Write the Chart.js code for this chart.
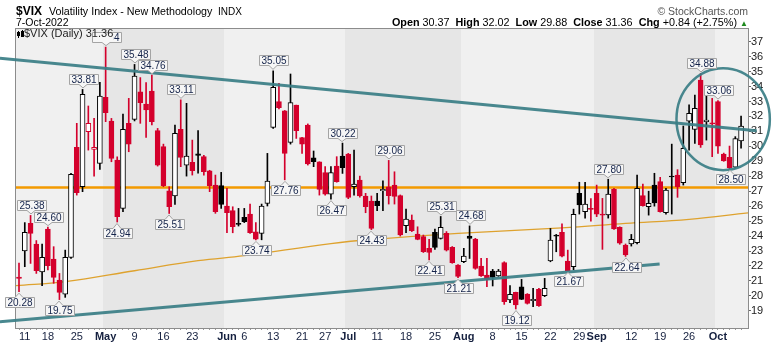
<!DOCTYPE html>
<html>
<head>
<meta charset="utf-8">
<title>$VIX</title>
<script src="https://cdn.jsdelivr.net/npm/chart.js@4.4.1/dist/chart.umd.min.js"></script>
<style>
  html,body{margin:0;padding:0;background:#fff}
  #box{position:relative;width:780px;height:345px;font-family:"Liberation Sans",Arial,sans-serif;color:#000}
  #box canvas{position:absolute;left:0;top:0}
  .t{position:absolute;white-space:pre;line-height:1}
</style>
</head>
<body>
<div id="box">
  <canvas id="chart" width="780" height="345"></canvas>
  <div class="t" style="left:16px;top:4.8px;font-size:12px;font-weight:bold">$VIX</div>
  <div class="t" style="left:49px;top:5.9px;font-size:10.7px">Volatility Index - New Methodology</div>
  <div class="t" style="left:218px;top:6.5px;font-size:10px">INDX</div>
  <div class="t" id="asof" style="left:16px;top:16.8px;font-size:10.5px"></div>
  <div class="t" style="right:32px;top:6.1px;font-size:10.5px;color:#555">© StockCharts.com</div>
  <div class="t" id="quote" style="right:32px;top:16.6px;font-size:10.8px"></div>
</div>
<script>
const FONT = '"Liberation Sans", Arial, sans-serif';

// trading days, Apr 8 -> Oct 7 2022 (MM-DD)
const dates = [
  '04-08','04-11','04-12','04-13','04-14','04-18','04-19','04-20','04-21','04-22',
  '04-25','04-26','04-27','04-28','04-29','05-02','05-03','05-04','05-05','05-06',
  '05-09','05-10','05-11','05-12','05-13','05-16','05-17','05-18','05-19','05-20',
  '05-23','05-24','05-25','05-26','05-27','05-31','06-01','06-02','06-03','06-06',
  '06-07','06-08','06-09','06-10','06-13','06-14','06-15','06-16','06-17','06-21',
  '06-22','06-23','06-24','06-27','06-28','06-29','06-30','07-01','07-05','07-06',
  '07-07','07-08','07-11','07-12','07-13','07-14','07-15','07-18','07-19','07-20',
  '07-21','07-22','07-25','07-26','07-27','07-28','07-29','08-01','08-02','08-03',
  '08-04','08-05','08-08','08-09','08-10','08-11','08-12','08-15','08-16','08-17',
  '08-18','08-19','08-22','08-23','08-24','08-25','08-26','08-29','08-30','08-31',
  '09-01','09-02','09-06','09-07','09-08','09-09','09-12','09-13','09-14','09-15',
  '09-16','09-19','09-20','09-21','09-22','09-23','09-26','09-27','09-28','09-29',
  '09-30','10-03','10-04','10-05','10-06','10-07'
];

const open = [
  21.25, 23.00, 24.85, 23.47, 21.60, 24.47, 22.46, 21.06, 20.12, 22.57,
  29.93, 27.30, 30.98, 29.80, 28.86, 33.28, 31.69, 29.08, 25.85, 31.54,
  31.80, 33.65, 32.83, 33.70, 31.05, 29.98, 27.03, 26.68, 31.14, 28.75,
  28.93, 29.50, 29.31, 28.37, 27.41, 27.37, 26.01, 25.70, 24.85, 25.25,
  25.47, 24.29, 24.17, 26.19, 31.27, 32.99, 32.38, 30.27, 32.76, 30.58,
  31.43, 29.24, 28.97, 28.24, 26.81, 28.68, 29.35, 29.49, 27.30, 27.75,
  26.68, 26.34, 26.34, 27.03, 27.30, 27.41, 26.70, 24.69, 25.07, 24.13,
  23.96, 23.18, 24.25, 23.85, 24.18, 23.24, 22.06, 22.28, 24.00, 23.80,
  21.99, 21.39, 21.66, 21.33, 22.22, 19.72, 20.23, 20.61, 20.12, 19.68,
  20.43, 20.01, 22.33, 24.05, 24.25, 22.33, 21.95, 26.86, 25.63, 25.85,
  26.86, 25.45, 25.41, 27.13, 24.59, 23.40, 23.47, 23.56, 26.70, 25.96,
  27.41, 27.64, 25.56, 28.00, 28.08, 27.57, 31.69, 31.14, 34.44, 31.65,
  31.56, 32.99, 29.49, 29.26, 28.60, 30.37
];
const high = [
  22.20, 24.90, 25.38, 23.70, 23.47, 24.60, 23.29, 21.50, 23.06, 28.19,
  31.54, 33.81, 32.70, 31.87, 34.28, 36.64, 31.87, 29.30, 32.16, 33.21,
  35.48, 34.60, 34.26, 34.76, 31.20, 30.15, 27.30, 31.43, 33.11, 32.88,
  30.42, 31.05, 29.40, 28.40, 28.08, 28.26, 27.20, 25.96, 25.85, 25.85,
  26.14, 24.90, 26.14, 29.53, 35.05, 34.21, 32.40, 34.84, 32.76, 30.60,
  31.50, 29.69, 28.97, 28.64, 28.64, 29.31, 30.22, 29.53, 29.75, 28.01,
  26.86, 26.68, 26.86, 27.70, 29.06, 28.30, 26.75, 25.81, 25.41, 24.62,
  24.07, 23.78, 24.47, 25.31, 24.30, 23.30, 22.10, 23.18, 24.68, 23.85,
  22.51, 22.51, 21.77, 21.77, 22.28, 20.68, 20.25, 21.10, 20.15, 20.50,
  20.50, 21.17, 24.51, 24.11, 24.81, 23.06, 25.80, 27.60, 27.60, 26.50,
  27.41, 26.52, 27.80, 27.20, 24.62, 23.47, 24.11, 28.08, 27.48, 27.00,
  28.20, 27.93, 27.19, 30.15, 28.44, 31.36, 32.77, 33.43, 34.88, 33.81,
  33.21, 33.06, 29.55, 30.02, 30.65, 32.02
];
const low = [
  20.28, 21.95, 22.17, 21.50, 20.68, 21.73, 20.84, 19.75, 19.90, 22.50,
  26.74, 26.97, 29.75, 28.00, 28.46, 31.65, 28.97, 24.94, 25.63, 29.64,
  31.70, 31.54, 30.60, 31.43, 28.68, 27.30, 25.51, 26.12, 28.64, 28.01,
  28.08, 28.20, 28.08, 26.97, 25.52, 25.85, 24.22, 24.22, 24.67, 24.90,
  24.17, 23.74, 23.75, 26.01, 31.20, 32.50, 27.76, 30.15, 30.53, 29.53,
  28.75, 28.64, 26.74, 26.74, 26.47, 27.60, 28.19, 26.50, 26.74, 26.60,
  25.56, 24.43, 25.70, 25.70, 26.14, 26.14, 24.00, 24.22, 24.30, 23.75,
  22.90, 22.41, 23.11, 23.80, 23.00, 22.18, 21.21, 22.22, 22.50, 21.78,
  21.30, 20.61, 20.66, 21.30, 19.43, 19.54, 19.12, 19.75, 19.45, 19.27,
  19.30, 19.95, 22.28, 22.95, 22.60, 21.67, 21.75, 25.47, 25.20, 25.00,
  25.30, 23.11, 25.20, 24.45, 23.45, 22.64, 23.33, 23.47, 26.00, 25.40,
  26.00, 25.60, 25.47, 25.47, 26.59, 27.41, 29.75, 30.20, 29.93, 30.42,
  29.31, 29.53, 29.00, 28.50, 28.55, 29.88
];
const close = [
  21.16, 24.25, 24.18, 21.68, 22.57, 22.02, 21.24, 20.23, 22.57, 28.13,
  26.90, 33.48, 31.54, 29.93, 33.37, 32.25, 29.20, 25.29, 31.14, 30.15,
  34.70, 32.92, 32.43, 31.65, 28.75, 27.37, 25.96, 30.87, 29.26, 29.35,
  28.37, 29.40, 28.30, 27.37, 25.63, 26.12, 25.56, 24.63, 24.78, 24.96,
  24.22, 23.80, 26.01, 27.68, 33.95, 32.59, 29.53, 32.92, 31.05, 30.15,
  28.82, 28.97, 27.12, 26.81, 28.24, 27.64, 28.57, 26.59, 27.48, 26.68,
  25.96, 24.51, 26.03, 27.12, 26.70, 26.65, 24.07, 25.14, 24.36, 23.78,
  22.95, 22.91, 23.24, 24.58, 23.06, 22.22, 21.30, 22.66, 23.85, 21.84,
  21.33, 21.10, 21.24, 21.66, 19.61, 20.10, 19.39, 19.77, 19.50, 19.77,
  19.34, 20.50, 23.73, 24.00, 22.66, 21.68, 25.45, 26.08, 26.14, 25.79,
  25.47, 25.40, 26.81, 24.47, 23.52, 22.73, 23.78, 27.19, 26.03, 26.19,
  26.22, 25.63, 27.08, 27.95, 27.30, 29.87, 32.21, 32.54, 30.09, 31.76,
  31.50, 30.02, 29.02, 28.55, 30.52, 31.36
];

// x axis labels
const tickDates = ['04-11','04-18','04-25','05-02','05-09','05-16','05-23','06-01','06-06','06-13',
  '06-21','06-27','07-01','07-11','07-18','07-25','08-01','08-08','08-15','08-22','08-29',
  '09-01','09-12','09-19','09-26','10-03'];
const tickText = ['11','18','25','May','9','16','23','Jun','6','13',
  '21','27','Jul','11','18','25','Aug','8','15','22','29',
  'Sep','12','19','26','Oct'];
const monthNames = ['May','Jun','Jul','Aug','Sep','Oct'];
const yTicks = [19,20,21,22,23,24,25,26,27,28,29,30,31,32,33,34,35,36,37];

// 200-day average, read at a few bars
const maIdx = [-0.52, 8, 20, 31, 39, 54, 62, 76, 94, 105, 116, 126.2];
const maVal = [20.68, 20.95, 21.68, 22.35, 22.69, 23.50, 23.80, 24.18, 24.55, 24.85, 25.12, 25.55];

// bars carrying high / low tags
const peakIdx = [2, 5, 11, 15, 20, 23, 28, 44, 56, 64, 73, 78, 102, 118, 121];
const troughIdx = [0, 7, 17, 26, 41, 46, 54, 61, 71, 76, 86, 95, 105, 123];

// drawn annotations, in (bar, value) units
const keyLevel = 27.25;
const upperTrend = [[-3.3, 35.90], [127.7, 31.05]];
const lowerTrend = [[-3.3, 18.27], [110.9, 22.13]];
const ring = [121.9, 31.82, 8.08, 3.41];

const RED = '#d4002c', INK = '#000';
const last = close.length - 1;
const candleColor = close.map((c, i) => c >= (i ? close[i - 1] : open[i]) ? INK : RED);
const tickAt = {};
tickDates.forEach((d, k) => { tickAt[dates.indexOf(d)] = tickText[k]; });

document.getElementById('asof').textContent = '7-Oct-2022';
const chg = close[last] - close[last - 1];
const pct = chg / close[last - 1] * 100;
const sgn = v => (v >= 0 ? '+' : '') + v.toFixed(2);
document.getElementById('quote').innerHTML =
  `<b>Open</b> ${open[last].toFixed(2)}  <b>High</b> ${high[last].toFixed(2)}  <b>Low</b> ${low[last].toFixed(2)}  ` +
  `<b>Close</b> ${close[last].toFixed(2)}  <b>Chg</b> ${sgn(chg)} (${sgn(pct)}%) <span style="color:#1d8a1d;font-size:8px">▲</span>`;

// month shading + horizontal level, under the candles
const backdrop = {
  id: 'backdrop',
  beforeDatasetsDraw(chart) {
    const { ctx, chartArea: a, scales: { x, y } } = chart;
    ctx.save();
    ctx.fillStyle = '#f0f0f0';
    ctx.fillRect(a.left, a.top, a.right - a.left, a.bottom - a.top);
    let start = 0, m = 0;
    for (let i = 1; i <= dates.length; i++) {
      if (i === dates.length || dates[i].slice(0, 2) !== dates[i - 1].slice(0, 2)) {
        if (m % 2 === 1) {
          const l = Math.round(x.getPixelForValue(start - 0.5));
          const r = i === dates.length ? a.right : Math.round(x.getPixelForValue(i - 0.5));
          ctx.fillStyle = '#e6e6e6';
          ctx.fillRect(l, a.top, r - l, a.bottom - a.top);
        }
        start = i; m++;
      }
    }
    const ly = y.getPixelForValue(keyLevel);
    ctx.strokeStyle = '#f39a00';
    ctx.lineWidth = 2.5;
    ctx.beginPath(); ctx.moveTo(a.left, ly); ctx.lineTo(a.right, ly); ctx.stroke();
    ctx.restore();
  }
};

function tag(ctx, cx, tip, text, above) {
  ctx.font = `10px ${FONT}`;
  const w = Math.round(ctx.measureText(text).width) + 4, h = 10, p = 4;
  const l = Math.round(cx - w / 2) + 0.5, r = l + w;
  const base = Math.round(above ? tip - p : tip + p) + 0.5;
  const t = above ? base - h : base, b = above ? base : base + h;
  ctx.beginPath();
  if (above) {
    ctx.moveTo(l, t); ctx.lineTo(r, t); ctx.lineTo(r, b);
    ctx.lineTo(cx + p, b); ctx.lineTo(cx, tip); ctx.lineTo(cx - p, b); ctx.lineTo(l, b);
  } else {
    ctx.moveTo(l, t); ctx.lineTo(cx - p, t); ctx.lineTo(cx, tip); ctx.lineTo(cx + p, t);
    ctx.lineTo(r, t); ctx.lineTo(r, b); ctx.lineTo(l, b);
  }
  ctx.closePath();
  ctx.fillStyle = '#f6f6f6'; ctx.fill();
  ctx.strokeStyle = '#a4a4a4'; ctx.lineWidth = 1; ctx.stroke();
  ctx.fillStyle = '#14234a';
  ctx.textAlign = 'center'; ctx.textBaseline = 'middle';
  ctx.fillText(text, (l + r) / 2, (t + b) / 2 + 0.5);
  return { l, r, t, b };
}

// trend lines, ring, frame, tags and the in-chart legend
const overlay = {
  id: 'overlay',
  afterDatasetsDraw(chart) {
    const { ctx, chartArea: a, scales: { x, y } } = chart;
    ctx.save();
    ctx.strokeStyle = '#8c8c8c'; ctx.lineWidth = 1;
    ctx.strokeRect(a.left - 0.5, a.top - 0.5, a.right - a.left + 1, a.bottom - a.top + 1);

    ctx.strokeStyle = 'rgba(58,126,134,0.92)'; ctx.lineWidth = 3;
    [upperTrend, lowerTrend].forEach(seg => {
      ctx.beginPath();
      ctx.moveTo(x.getPixelForValue(seg[0][0]), y.getPixelForValue(seg[0][1]));
      ctx.lineTo(x.getPixelForValue(seg[1][0]), y.getPixelForValue(seg[1][1]));
      ctx.stroke();
    });
    const cx = x.getPixelForValue(ring[0]), cy = y.getPixelForValue(ring[1]);
    const rx = x.getPixelForValue(ring[0] + ring[2]) - cx, ry = cy - y.getPixelForValue(ring[1] + ring[3]);
    ctx.lineWidth = 2.5;
    ctx.beginPath(); ctx.ellipse(cx, cy, rx, ry, 0, 0, Math.PI * 2); ctx.stroke();

    let topTag = null;
    peakIdx.forEach(i => {
      const bx = tag(ctx, Math.round(x.getPixelForValue(i)), y.getPixelForValue(high[i]) - 1.5, high[i].toFixed(2), true);
      if (i === 15) topTag = bx;
    });
    troughIdx.forEach(i => tag(ctx, Math.round(x.getPixelForValue(i)), y.getPixelForValue(low[i]) + 1.5, low[i].toFixed(2), false));

    // legend: tiny candle icon + label
    const lx = a.left + 1;
    ctx.fillStyle = INK; ctx.fillRect(lx + 1, a.top + 2, 1, 7); ctx.fillRect(lx, a.top + 3, 3, 4);
    ctx.fillRect(lx + 5, a.top + 1, 1, 7); ctx.fillRect(lx + 4, a.top + 2, 3, 3);
    ctx.strokeStyle = INK; ctx.strokeRect(lx + 4.5, a.top + 5.5, 2, 2);
    const legendText = `$VIX (Daily) ${close[last].toFixed(2)}`;
    ctx.font = `11px ${FONT}`;
    const tw = ctx.measureText(legendText).width, tx = a.left + 8;
    if (topTag) {
      ctx.fillStyle = '#f6f6f6';
      const r = Math.min(topTag.r - 1, tx + tw + 0.5);
      ctx.fillRect(topTag.l + 0.5, topTag.t + 0.5, r - topTag.l - 0.5, topTag.b - topTag.t - 1);
    }
    ctx.fillStyle = '#222';
    ctx.textAlign = 'left'; ctx.textBaseline = 'alphabetic';
    ctx.fillText(legendText, tx, a.top + 8);
    ctx.restore();
  }
};

new Chart(document.getElementById('chart'), {
  data: {
    datasets: [
      {
        type: 'line', label: 'MA(200)',
        data: maIdx.map((v, k) => ({ x: v, y: maVal[k] })),
        borderColor: '#dea22e', borderWidth: 1.3, pointRadius: 0, tension: 0.4, order: 3
      },
      {
        type: 'bar', label: 'range',
        data: dates.map((d, i) => ({ x: i, y: [low[i], high[i]] })),
        backgroundColor: candleColor, barThickness: 1, grouped: false, order: 2
      },
      {
        type: 'bar', label: 'body',
        data: dates.map((d, i) => ({ x: i, y: [Math.min(open[i], close[i]), Math.max(open[i], close[i])] })),
        backgroundColor: close.map((c, i) => c > open[i] ? '#fff' : candleColor[i]),
        borderColor: candleColor, borderWidth: 1, borderSkipped: false,
        barThickness: 5, minBarLength: 1, grouped: false, order: 1
      }
    ]
  },
  options: {
    responsive: false, devicePixelRatio: 1, animation: false, events: [],
    layout: { padding: { left: 16, top: 29, right: 0, bottom: 0 } },
    plugins: { legend: { display: false }, tooltip: { enabled: false } },
    scales: {
      x: {
        type: 'linear', min: -0.52, max: 126.2, offset: false,
        afterBuildTicks: s => { s.ticks = dates.map((d, i) => ({ value: i })); },
        afterFit: s => { s.height = 17; },
        border: { display: false },
        grid: { drawOnChartArea: false, drawTicks: true, tickLength: 2, color: '#9a9a9a', offset: false },
        ticks: {
          autoSkip: false, maxRotation: 0, padding: 0, color: '#15203f',
          font: c => ({ family: FONT, size: 11, weight: monthNames.includes(tickAt[c.tick && c.tick.value]) ? 'bold' : 'normal' }),
          callback: v => tickAt[v] || ''
        }
      },
      y: {
        position: 'right', min: 17.85, max: 37.85,
        afterBuildTicks: s => { s.ticks = yTicks.map(v => ({ value: v })); },
        afterFit: s => { s.width = 32; },
        border: { display: false },
        grid: { drawOnChartArea: false, drawTicks: true, tickLength: 3, color: '#666' },
        ticks: { padding: 0, color: '#222', font: { family: FONT, size: 11 } }
      }
    }
  },
  plugins: [backdrop, overlay]
});
</script>
</body>
</html>
